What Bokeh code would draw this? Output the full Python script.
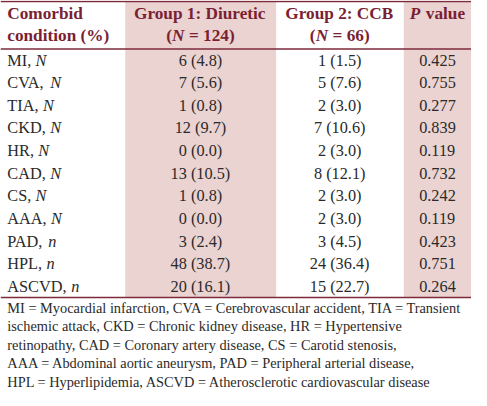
from bokeh.plotting import figure
from bokeh.models import Range1d, ColumnDataSource
from bokeh.core.properties import value, field
from bokeh.embed import file_html
from bokeh.resources import INLINE

# ---------------- data ----------------
conditions = ["MI", "CVA", "TIA", "CKD", "HR", "CAD", "CS", "AAA", "PAD", "HPL", "ASCVD"]
count_symbol = ["N", "N", "N", "N", "N", "N", "N", "N", "n", "n", "n"]
group1_n = [6, 7, 1, 12, 0, 13, 1, 0, 3, 48, 20]
group1_pct = [4.8, 5.6, 0.8, 9.7, 0.0, 10.5, 0.8, 0.0, 2.4, 38.7, 16.1]
group2_n = [1, 5, 2, 7, 2, 8, 2, 2, 3, 24, 15]
group2_pct = [1.5, 7.6, 3.0, 10.6, 3.0, 12.1, 3.0, 3.0, 4.5, 36.4, 22.7]
p_values = [0.425, 0.755, 0.277, 0.839, 0.119, 0.732, 0.242, 0.119, 0.423, 0.751, 0.264]

header_first = ["Comorbid", "condition (%)"]
group1_title = "Group 1: Diuretic"
group1_size = 124
group2_title = "Group 2: CCB"
group2_size = 66
pvalue_title = "value"

footnote_lines = [
    "MI = Myocardial infarction, CVA = Cerebrovascular accident, TIA = Transient",
    "ischemic attack, CKD = Chronic kidney disease, HR = Hypertensive",
    "retinopathy, CAD = Coronary artery disease, CS = Carotid stenosis,",
    "AAA = Abdominal aortic aneurysm, PAD = Peripheral arterial disease,",
    "HPL = Hyperlipidemia, ASCVD = Atherosclerotic cardiovascular disease",
]

# ---------------- layout / style ----------------
W_REF, H_REF = 487, 411
PW, PH = 471, 390
SCALE = (PW / W_REF + PH / H_REF) / 2

FONT = "Liberation Serif"
RULE = "#7d2a3a"
HEAD = "#7b1f32"
BODY = "#2a2a2a"
SHADE = "#ead3d1"

FS_BODY = 17
FS_HEAD = 18
FS_NOTE = 15

col_left = 7
col_c = [207, 351, 452]
shade_l = [129, 417]
shade_r = [285, 487]
y_top, y_head_rule, y_bottom = 1, 51, 313
head_y = [14, 37]
row_h = (y_bottom - y_head_rule) / len(conditions)
note_y0, note_dy = 324, 19.4

# Times-compatible advance widths (1/1000 em) used for placing mixed-style pieces
REG = {' ': 250, ',': 250, '.': 250, '(': 333, ')': 333, '=': 564, '%': 833, ':': 278,
       'A': 722, 'C': 667, 'D': 722, 'H': 722, 'I': 333, 'K': 722, 'L': 611, 'M': 889,
       'P': 556, 'R': 667, 'S': 556, 'T': 611, 'V': 722}
ITAL = {'N': 667, 'n': 500, 'P': 611}
BOLD = {' ': 250, '(': 333, ')': 333, '=': 570, ':': 333, 'G': 778, 'C': 722, 'B': 667,
        'D': 722, 'r': 444, 'o': 500, 'u': 556, 'p': 556, 'i': 278, 'e': 444, 't': 333,
        'c': 444, 'v': 500, 'a': 500, 'l': 278}
BOLDITAL = {'N': 722, 'P': 667}
TABLES = {"normal": REG, "italic": ITAL, "bold": BOLD, "bold italic": BOLDITAL}


def width(text, style, fs):
    t = TABLES[style]
    return sum(t.get(ch, 500) for ch in text) / 1000.0 * fs


store = {k: dict(x=[], y=[], text=[], fs=[], color=[]) for k in TABLES}


def place(segs, x, y, align, fs, color):
    total = sum(width(t, s, fs) for t, s in segs)
    cur = x if align == "left" else x - total / 2.0
    for t, s in segs:
        stripped = t.lstrip(" ")
        lead = t[: len(t) - len(stripped)]
        cur += width(lead, s, fs)
        d = store[s]
        d["x"].append(cur)
        d["y"].append(y)
        d["text"].append(stripped)
        d["fs"].append("%.2fpx" % (fs * SCALE))
        d["color"].append(color)
        cur += width(stripped, s, fs)


# header
place([(header_first[0], "bold")], col_left, head_y[0], "left", FS_HEAD, HEAD)
place([(header_first[1], "bold")], col_left, head_y[1], "left", FS_HEAD, HEAD)
place([(group1_title, "bold")], col_c[0], head_y[0], "center", FS_HEAD, HEAD)
place([("(", "bold"), ("N", "bold italic"), (" = %d)" % group1_size, "bold")],
      col_c[0], head_y[1], "center", FS_HEAD, HEAD)
place([(group2_title, "bold")], col_c[1], head_y[0], "center", FS_HEAD, HEAD)
place([("(", "bold"), ("N", "bold italic"), (" = %d)" % group2_size, "bold")],
      col_c[1], head_y[1], "center", FS_HEAD, HEAD)
place([("P", "bold italic"), (" " + pvalue_title, "bold")],
      col_c[2], head_y[0], "center", FS_HEAD, HEAD)

# body rows
for i, cond in enumerate(conditions):
    y = y_head_rule + row_h * (i + 0.5)
    place([(cond + ", ", "normal"), (count_symbol[i], "italic")], col_left, y, "left", FS_BODY, BODY)
    place([("%d (%.1f)" % (group1_n[i], group1_pct[i]), "normal")], col_c[0], y, "center", FS_BODY, BODY)
    place([("%d (%.1f)" % (group2_n[i], group2_pct[i]), "normal")], col_c[1], y, "center", FS_BODY, BODY)
    place([("%.3f" % p_values[i], "normal")], col_c[2], y, "center", FS_BODY, BODY)

# footnotes
for j, line in enumerate(footnote_lines):
    place([(line, "normal")], col_left, note_y0 + note_dy * j, "left", FS_NOTE, BODY)

# ---------------- figure ----------------
p = figure(width=PW, height=PH, x_range=Range1d(0, W_REF), y_range=Range1d(H_REF, 0),
           output_backend="svg", toolbar_location=None, min_border=0,
           background_fill_color="white", border_fill_color="white")
p.axis.visible = False
p.grid.visible = False
p.outline_line_color = None

p.quad(left=shade_l, right=shade_r, top=[y_top] * 2, bottom=[y_bottom] * 2,
       fill_color=SHADE, line_color=None)
p.segment(x0=[0] * 3, x1=[W_REF] * 3, y0=[y_top, y_head_rule, y_bottom],
          y1=[y_top, y_head_rule, y_bottom], line_color=RULE, line_width=1.5)

for style, d in store.items():
    if not d["x"]:
        continue
    src = ColumnDataSource(d)
    p.text(x="x", y="y", text="text", source=src, text_font=value(FONT),
           text_font_style=style, text_font_size=field("fs"), text_color=field("color"),
           text_align="left", text_baseline="middle")

open("out.html", "w").write(file_html(p, INLINE))
